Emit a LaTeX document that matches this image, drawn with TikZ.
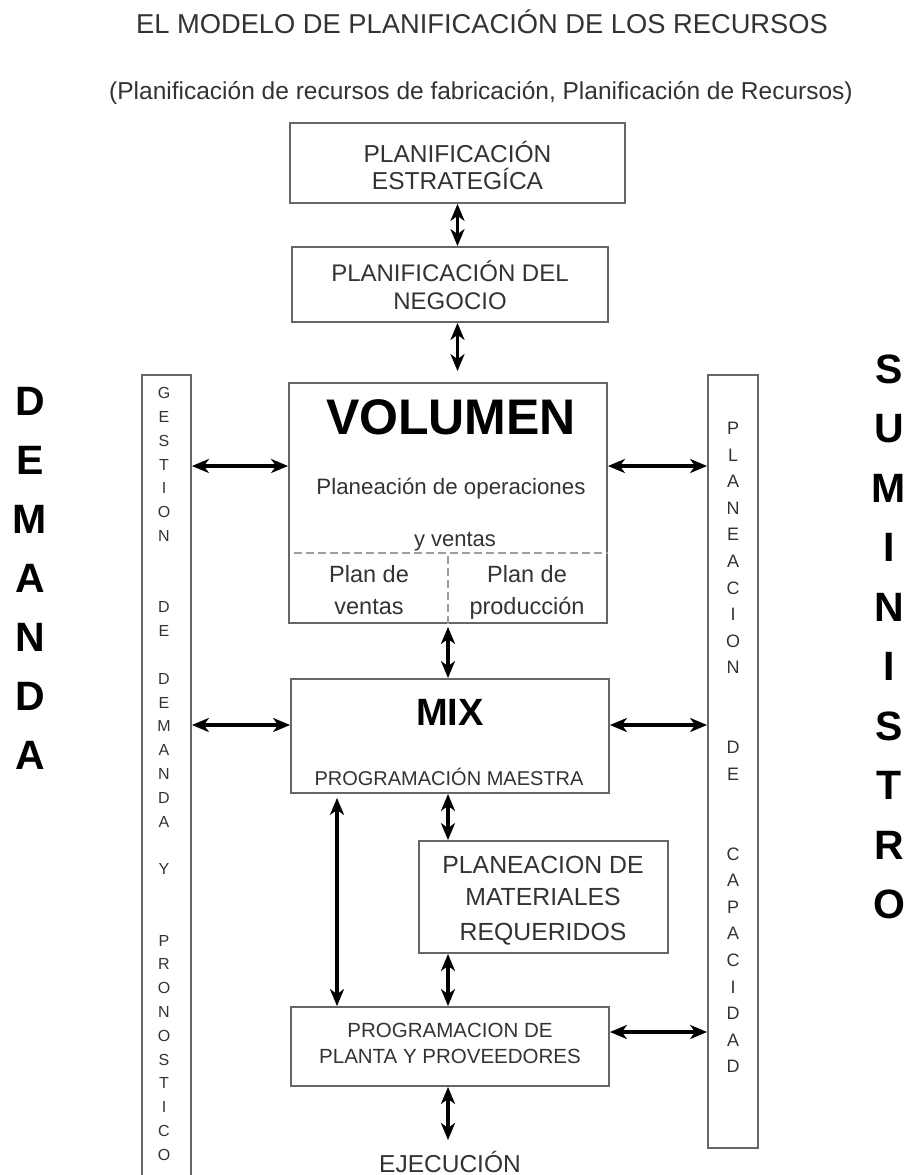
\documentclass[tikz,border=0pt]{standalone}
\usepackage{fontspec}
\setmainfont{Liberation Sans}
\usetikzlibrary{arrows.meta}
\definecolor{txtc}{gray}{0.2}
\definecolor{framec}{gray}{0.4}
\definecolor{dashc}{gray}{0.62}
\newcommand{\myfs}[1]{\fontsize{#1}{#1}\selectfont}
\begin{document}
\begin{tikzpicture}[x=1pt,y=-1pt,
  box/.style={draw=framec, line width=1.8pt, rectangle, inner sep=0pt, fill=none},
  txt/.style={anchor=base, text=txtc, inner sep=0pt},
  big/.style={anchor=base, inner sep=0pt, font=\bfseries\myfs{41}},
  lcol/.style={anchor=base, inner sep=0pt, text=txtc, font=\myfs{16}},
  rcol/.style={anchor=base, inner sep=0pt, text=txtc, font=\myfs{18}},
  arr/.style={line width=3.2pt, {Stealth[length=17pt,width=14pt,inset=5pt]}-{Stealth[length=17pt,width=14pt,inset=5pt]}},
  dsh/.style={draw=dashc, line width=1.8pt, dash pattern=on 8pt off 4pt}
]
\useasboundingbox[fill=white] (0,0) rectangle (910,1175);

% titles
\node[txt, font=\myfs{27.3}] (t1) at (482,33) {EL MODELO DE PLANIFICACIÓN DE LOS RECURSOS};
\node[txt, font=\myfs{24.5}] (t2) at (481,99) {(Planificación de recursos de fabricación, Planificación de Recursos)};

% boxes
\node[box, minimum width=335pt, minimum height=80pt] (pe) at (457.5,163) {};
\node[box, minimum width=316pt, minimum height=75pt] (pn) at (450,284.5) {};
\node[box, minimum width=318pt, minimum height=240pt] (vol) at (448,503) {};
\node[box, minimum width=318pt, minimum height=114pt] (mix) at (450,736) {};
\node[box, minimum width=249pt, minimum height=112pt] (pmr) at (543.5,897) {};
\node[box, minimum width=318pt, minimum height=79pt] (ppp) at (450,1046.5) {};
\node[box, minimum width=49pt, minimum height=815pt] (gd) at (166.5,782.5) {};
\node[box, minimum width=50pt, minimum height=773pt] (pc) at (733,761.5) {};

% box texts
\node[txt, font=\myfs{24.5}] (pe1) at (457.5,162) {PLANIFICACIÓN};
\node[txt, font=\myfs{24.5}] (pe2) at (457.5,189) {ESTRATEGÍCA};
\node[txt, font=\myfs{24}] (pn1) at (450,281) {PLANIFICACIÓN DEL};
\node[txt, font=\myfs{24}] (pn2) at (450,309) {NEGOCIO};

\node[anchor=base, inner sep=0pt, font=\bfseries\myfs{50}] (volt) at (451,434) {VOLUMEN};
\node[txt, font=\myfs{22.3}] (vol1) at (451,494) {Planeación de operaciones};
\node[txt, font=\myfs{22}] (vol2) at (455,546) {y ventas};
\draw[dsh] (294,553) coordinate (dh1) -- (vol.east |- dh1);
\draw[dsh] (vol.south) -- (vol.south |- dh1);
\node[txt, font=\myfs{23.5}] (pv1) at (369,582) {Plan de};
\node[txt, font=\myfs{23.5}] (pv2) at (369,614) {ventas};
\node[txt, font=\myfs{23.5}] (pp1) at (527,582) {Plan de};
\node[txt, font=\myfs{23.5}] (pp2) at (527,614) {producción};

\node[anchor=base, inner sep=0pt, font=\bfseries\myfs{38}] (mixt) at (450,725) {MIX};
\node[txt, font=\myfs{20}] (mix1) at (449,785) {PROGRAMACIÓN MAESTRA};

\node[txt, font=\myfs{24.8}] (pmr1) at (543,873) {PLANEACION DE};
\node[txt, font=\myfs{24.8}] (pmr2) at (543,905) {MATERIALES};
\node[txt, font=\myfs{24.8}] (pmr3) at (543,940) {REQUERIDOS};

\node[txt, font=\myfs{20.5}] (ppp1) at (450,1037) {PROGRAMACION DE};
\node[txt, font=\myfs{20.5}] (ppp2) at (450,1063) {PLANTA Y PROVEEDORES};

\node[txt, font=\myfs{24.5}] (ej) at (450,1172) {EJECUCIÓN};

% column letters
\foreach \l/\k [count=\i] in {G/0,E/1,S/2,T/3,I/4,O/5,N/6,D/9,E/10,D/12,E/13,M/14,A/15,N/16,D/17,A/18,Y/20,P/23,R/24,O/25,N/26,O/27,S/28,T/29,I/30,C/31,O/32}
  \node[lcol] (gdl\i) at (164,{398.7+23.8*\k}) {\l};
\foreach \l/\k [count=\i] in {P/0,L/1,A/2,N/3,E/4,A/5,C/6,I/7,O/8,N/9,D/12,E/13,C/16,A/17,P/18,A/19,C/20,I/21,D/22,A/23,D/24}
  \node[rcol] (pcl\i) at (733,{434.4+26.6*\k}) {\l};

% big side words
\foreach \l/\k [count=\i] in {D/0,E/1,M/2,A/3,N/4,D/5,A/6}
  \node[big] (dem\i) at (30,{415.3+59*\k}) {\l};
\foreach \l/\k [count=\i] in {S/0,U/1,M/2,I/3,N/4,I/5,S/6,T/7,R/8,O/9}
  \node[big] (sum\i) at (889,{383.3+59.5*\k}) {\l};

% helper coordinates
\coordinate (r1) at (0,466);
\coordinate (r2) at (0,725);
\coordinate (r3) at (0,1032);
\coordinate (lx) at (337,0);
\coordinate (ejtop) at (448,1140);

% vertical arrows
\draw[arr] (pe.south) -- (pn.north -| pe.south);
\draw[arr] (pn.south -| pe.south) -- ([yshift=11pt]vol.north -| pe.south);
\draw[arr] ([yshift=-3pt]vol.south) -- (mix.north -| vol.south);
\draw[arr] (mix.south -| vol.south) -- (pmr.north -| vol.south);
\draw[arr] ([yshift=-4pt]mix.south -| lx) -- (ppp.north -| lx);
\draw[arr] (pmr.south -| vol.south) -- (ppp.north -| vol.south);
\draw[arr] (ppp.south -| vol.south) -- (ejtop);

% horizontal arrows
\draw[arr] (gd.east |- r1) -- (vol.west |- r1);
\draw[arr] (vol.east |- r1) -- (pc.west |- r1);
\draw[arr] (gd.east |- r2) -- (mix.west |- r2);
\draw[arr] (mix.east |- r2) -- (pc.west |- r2);
\draw[arr] (ppp.east |- r3) -- (pc.west |- r3);
\end{tikzpicture}
\end{document}
